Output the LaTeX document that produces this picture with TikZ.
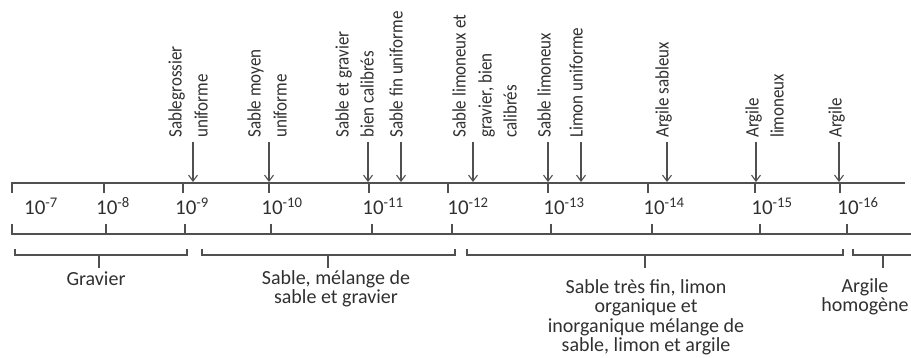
\documentclass[tikz,border=0pt]{standalone}
\usepackage{fontspec}
\setmainfont{Carlito}
\usetikzlibrary{arrows.meta}
\definecolor{textgray}{HTML}{303030}
\definecolor{linegray}{HTML}{505050}
\begin{document}
\begin{tikzpicture}[x=1pt,y=-1pt,
  axis/.style={draw=linegray, line width=1.3pt},
  vlab/.style={rotate=90, yscale=1.12, anchor=mid west, inner sep=0pt, text=textgray, font=\fontsize{17}{20}\selectfont},
  num/.style={text=textgray, font=\fontsize{21}{24}\selectfont, inner sep=0pt, anchor=base},
  blab/.style={text=textgray, font=\fontsize{20}{19.5}\selectfont, align=center, inner sep=0pt, anchor=north},
  arr/.style={-{Straight Barb[length=6pt,width=9pt]}, draw=linegray, line width=1.1pt}]
\useasboundingbox (0,0) rectangle (911,358);
% top axis
\coordinate (TLd) at (12,193);
\coordinate (TL) at (12,183);
\coordinate (TR) at (905,183);
\draw[axis] (TLd) -- (TL) -- (TR);
\foreach \x in {104,183,269,369,448,548,648,755,840}
  \draw[axis] (\x,183) -- (\x,193);
% bottom axis
\coordinate (BLu) at (12,224);
\coordinate (BL) at (12,234);
\coordinate (BR) at (911,234);
\draw[axis] (BLu) -- (BL) -- (BR);
\foreach \x in {106,185,271,372,452,551,652,760,847}
  \draw[axis] (\x,234) -- (\x,224);
% numbers
\node[num] (n7) at (41,215) {10\textsuperscript{-7}};
\node[num] (n8) at (113,215) {10\textsuperscript{-8}};
\node[num] (n9) at (192,215) {10\textsuperscript{-9}};
\node[num] (n10) at (282,215) {10\textsuperscript{-10}};
\node[num] (n11) at (383,215) {10\textsuperscript{-11}};
\node[num] (n12) at (468,215) {10\textsuperscript{-12}};
\node[num] (n13) at (564,215) {10\textsuperscript{-13}};
\node[num] (n14) at (664,215) {10\textsuperscript{-14}};
\node[num] (n15) at (772,215) {10\textsuperscript{-15}};
\node[num] (n16) at (858,215) {10\textsuperscript{-16}};
% brackets
\draw[axis] (15,249) -- (15,255) -- (187,255) -- (187,249);
\draw[axis] (99,255) -- (99,268);
\draw[axis] (202,249) -- (202,255) -- (455,255) -- (455,249);
\draw[axis] (328,255) -- (328,268);
\draw[axis] (467,249) -- (467,255) -- (843,255) -- (843,249);
\draw[axis] (645,255) -- (645,268);
\draw[axis] (853,249) -- (853,255) -- (911,255);
\draw[axis] (883,255) -- (883,268);
% bottom labels
\node[blab] (gr) at (96,272) {Gravier};
\node[blab] (sa) at (336,270) {Sable, mélange de\\sable et gravier};
\node[blab] (tf) at (646,279) {Sable très fin, limon\\organique et\\inorganique mélange de\\sable, limon et argile};
\node[blab] (ah) at (865,278) {Argile\\homogène};
% top labels
\node[vlab] (a1) at (179,138) {Sablegrossier};
\node[vlab] (a1b) at (205,138) {uniforme};
\node[vlab] (a2) at (258,138) {Sable moyen};
\node[vlab] (a2b) at (284,138) {uniforme};
\node[vlab] (a3) at (346,138) {Sable et gravier};
\node[vlab] (a3b) at (371,138) {bien calibrés};
\node[vlab] (a4) at (400,138) {Sable fin uniforme};
\node[vlab] (a5) at (463,138) {Sable limoneux et};
\node[vlab] (a5b) at (489,138) {gravier, bien};
\node[vlab] (a5c) at (514,138) {calibrés};
\node[vlab] (a6) at (548,138) {Sable limoneux};
\node[vlab] (a7) at (580,138) {Limon uniforme};
\node[vlab] (a8) at (666,138) {Argile sableux};
\node[vlab] (a9) at (756,138) {Argile};
\node[vlab] (a9b) at (781,138) {limoneux};
\node[vlab] (a10) at (839,138) {Argile};
% arrows
\foreach \i/\x in {1/193,2/269,3/368,4/401,5/473,6/548,7/581,8/667,9/756,10/839}{
  \coordinate (s\i) at (\x,142);
  \coordinate (e\i) at (\x,182);
  \draw[arr] (s\i) -- (e\i);
}
\end{tikzpicture}
\end{document}
